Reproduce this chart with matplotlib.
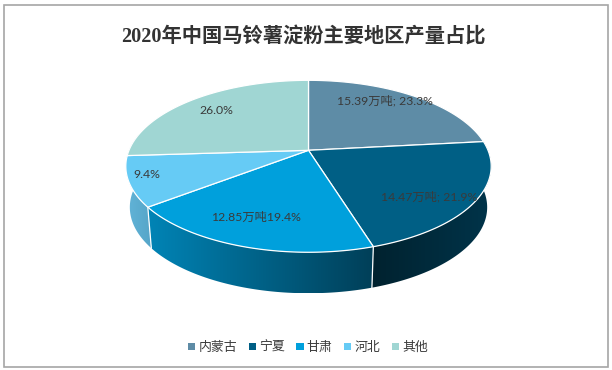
import numpy as np
import matplotlib
matplotlib.use("Agg")
import matplotlib.pyplot as plt
from matplotlib.patches import Patch, Rectangle, Polygon

regions = ["内蒙古", "宁夏", "甘肃", "河北", "其他"]
shares = [23.3, 21.9, 19.4, 9.4, 26.0]
labels = ["15.39万吨; 23.3%", "14.47万吨; 21.9%", "12.85万吨19.4%", "9.4%", "26.0%"]
title = "2020年中国马铃薯淀粉主要地区产量占比"

top_colors = ["#5E8CA6", "#005F85", "#00A0DC", "#66CBF5", "#A0D6D3"]
wall_left = ["#5E8CA6", "#00222F", "#0084B6", "#62B4D8", "#A0D6D3"]
wall_right = ["#5E8CA6", "#00344A", "#003F58", "#55A5C8", "#A0D6D3"]
label_pos = [(385, 101), (429, 197), (256, 217), (147, 175), (216, 110)]

CX, CY = 308.5, 150.3
A, B, K = 179.5, 83.0, 0.186
DEPTH, BOTTOM_X = 41.0, 0.978
TXT = "#3A3A3A"


def top_xy(theta):
    u, v = np.sin(theta), np.cos(theta)
    w = 1 + K * v
    return CX + A * u / w, CY - B * v / w


def bottom_xy(theta):
    x, y = top_xy(theta)
    return CX + (x - CX) * BOTTOM_X, y + DEPTH


def rgb(c):
    return np.array(matplotlib.colors.to_rgb(c))


fig = plt.figure(figsize=(6.12, 3.70), dpi=100, facecolor="white")
ax = fig.add_axes([0, 0, 1, 1])
ax.set_xlim(0, 612)
ax.set_ylim(370, 0)
ax.axis("off")

ax.add_patch(Rectangle((3.5, 4.5), 604, 362.5, fill=False, ec="#A6A6A6", lw=1.2, zorder=0))

edges = np.radians(np.concatenate([[0], np.cumsum(shares)]) * 3.6)

# side walls, gradient running left to right across each slice
for i in [1, 2, 3]:
    end = edges[i + 1] + (np.radians(15) if i == 3 else 0)  # wall wraps behind the top face
    th = np.linspace(edges[i], end, 200)
    tx, ty = top_xy(th)
    bx, by = bottom_xy(th)
    px = np.r_[tx, bx[::-1]]
    py = np.r_[ty, by[::-1]]
    clip = Polygon(np.c_[px, py], closed=True, transform=ax.transData, fc="none", ec="none")
    ax.add_patch(clip)
    xmin, xmax = px.min(), px.max()
    ramp = np.linspace(0, 1, 256)[None, :, None]
    grad = rgb(wall_left[i])[None, None, :] * (1 - ramp) + rgb(wall_right[i])[None, None, :] * ramp
    im = ax.imshow(grad, extent=(xmin, xmax, py.max(), py.min()), aspect="auto",
                   interpolation="bilinear", zorder=2)
    im.set_clip_path(clip)
ax.set_xlim(0, 612)
ax.set_ylim(370, 0)

# white seams on the front wall
for e in edges[1:4]:
    tx, ty = top_xy(e)
    bx, by = bottom_xy(e)
    if np.cos(e) < 0:
        ax.plot([tx, bx], [ty, by], color="white", lw=0.9, zorder=3)

# top face
for i in range(len(shares)):
    th = np.linspace(edges[i], edges[i + 1], 120)
    x, y = top_xy(th)
    ax.fill(np.r_[CX, x], np.r_[CY, y], facecolor=top_colors[i], edgecolor="white", lw=0.9,
            joinstyle="round", zorder=4)

for s, (x, y) in zip(labels, label_pos):
    ax.text(x, y, s, ha="center", va="center", fontsize=8.8, color=TXT,
            family=["Lato", "Noto Sans CJK SC"], zorder=5)

ax.text(303, 37.5, title, ha="center", va="center", fontsize=14.6, color="#333333",
        family=["Liberation Serif", "Noto Sans CJK SC"], fontweight="bold", zorder=5)

handles = [Patch(facecolor=c, edgecolor="none") for c in top_colors]
ax.legend(handles, regions, ncol=5, loc="center", bbox_to_anchor=(308 / 612, 1 - 347.5 / 370),
          frameon=False, prop={"family": ["Noto Sans CJK SC", "DejaVu Sans"], "size": 9.3},
          handlelength=0.56, handleheight=0.56, handletextpad=0.25, columnspacing=0.89,
          labelcolor=TXT, borderpad=0, borderaxespad=0)

fig.savefig("out.png", dpi=100, facecolor="white")
